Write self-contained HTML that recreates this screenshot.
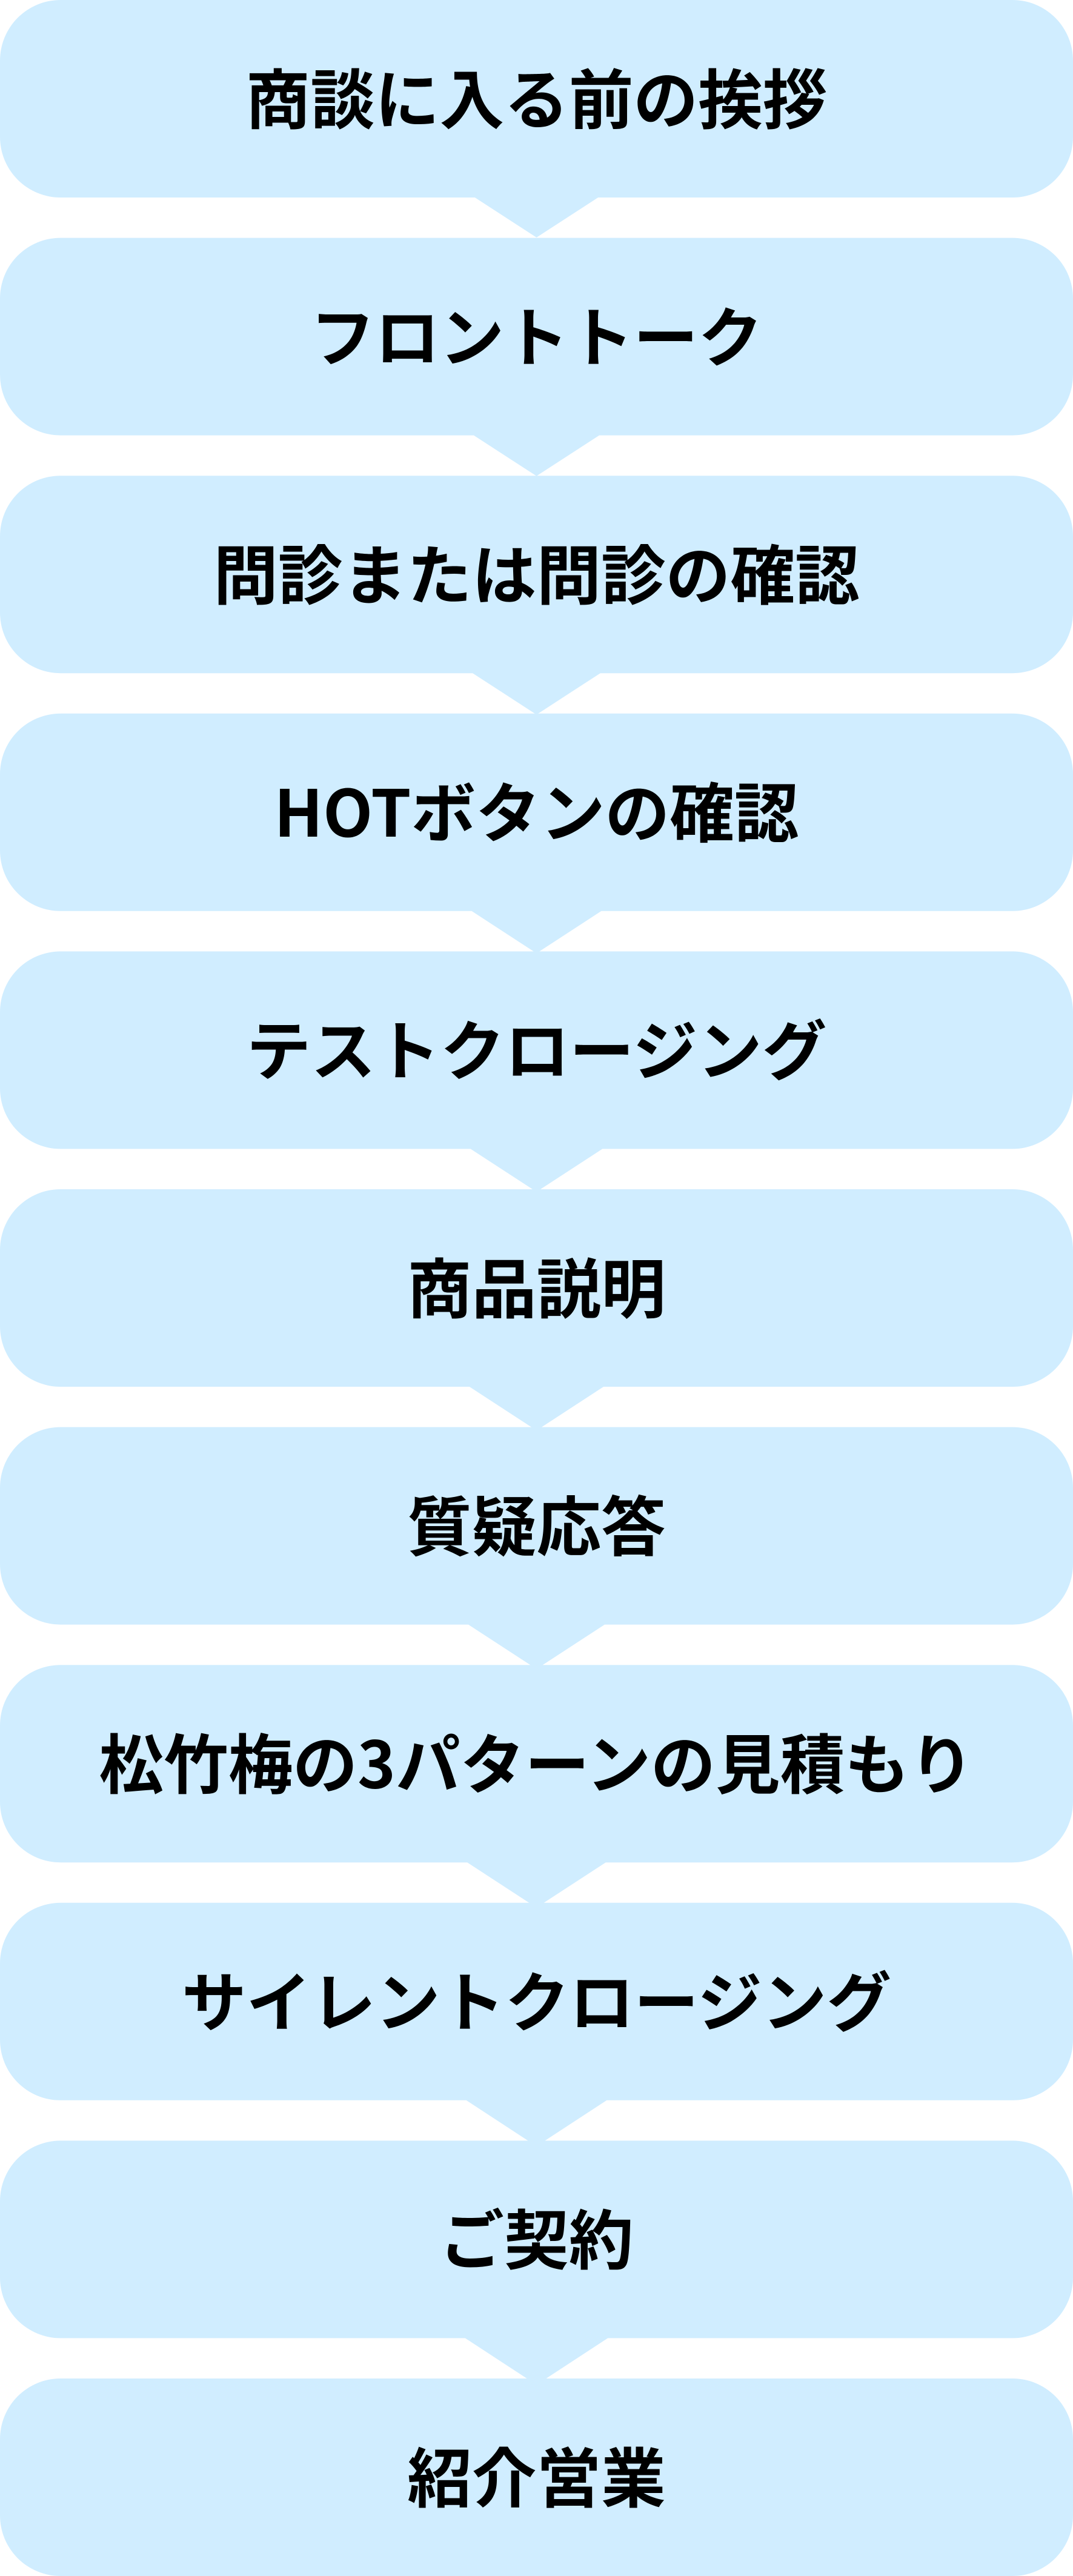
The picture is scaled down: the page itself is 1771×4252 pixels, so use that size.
<!DOCTYPE html>
<html lang="ja">
<head>
<meta charset="utf-8">
<title>営業の流れ</title>
<style>
html,body{margin:0;padding:0;background:#fff;width:1771px;height:4252px;overflow:hidden}
svg{display:block}
text{font-family:"Liberation Sans","Noto Sans CJK JP",sans-serif;font-weight:700;font-size:106.67px;fill:#000;text-anchor:middle}
.j{font-family:"Noto Sans CJK JP",sans-serif}
</style>
</head>
<body>
<svg xmlns="http://www.w3.org/2000/svg" width="1771" height="4252" viewBox="0 0 1771 4252">
<g fill="#d0edff">
<polygon points="783.8,324 987.2,324 987.2,326 885.5,392 783.8,326"/>
<polygon points="782,716.6 989,716.6 989,718.6 885.5,785.8 782,718.6"/>
<polygon points="780.2,1109.2 990.8,1109.2 990.8,1111.2 885.5,1179.6 780.2,1111.2"/>
<polygon points="778.5,1501.8 992.5,1501.8 992.5,1503.8 885.5,1573.5 778.5,1503.8"/>
<polygon points="776.7,1894.4 994.3,1894.4 994.3,1896.4 885.5,1967.3 776.7,1896.4"/>
<polygon points="774.9,2287 996.1,2287 996.1,2289 885.5,2361.1 774.9,2289"/>
<polygon points="773.1,2679.6 997.9,2679.6 997.9,2681.6 885.5,2754.9 773.1,2681.6"/>
<polygon points="771.3,3072.2 999.7,3072.2 999.7,3074.2 885.5,3148.7 771.3,3074.2"/>
<polygon points="769.6,3464.8 1001.4,3464.8 1001.4,3466.8 885.5,3542.6 769.6,3466.8"/>
<polygon points="767.8,3857.4 1003.2,3857.4 1003.2,3859.4 885.5,3936.4 767.8,3859.4"/>
<rect x="0" y="0" width="1771" height="326" rx="100" ry="100"/>
<rect x="0" y="392.6" width="1771" height="326" rx="100" ry="100"/>
<rect x="0" y="785.2" width="1771" height="326" rx="100" ry="100"/>
<rect x="0" y="1177.8" width="1771" height="326" rx="100" ry="100"/>
<rect x="0" y="1570.4" width="1771" height="326" rx="100" ry="100"/>
<rect x="0" y="1963" width="1771" height="326" rx="100" ry="100"/>
<rect x="0" y="2355.6" width="1771" height="326" rx="100" ry="100"/>
<rect x="0" y="2748.2" width="1771" height="326" rx="100" ry="100"/>
<rect x="0" y="3140.8" width="1771" height="326" rx="100" ry="100"/>
<rect x="0" y="3533.4" width="1771" height="326" rx="100" ry="100"/>
<rect x="0" y="3926" width="1771" height="326" rx="100" ry="100"/>
</g>
<text x="885.5" y="203.3">商談に入る前の挨拶</text>
<text x="885.5" y="595.9">フロントトーク</text>
<text x="885.5" y="988.5">問診または問診の確認</text>
<text x="885.5" y="1381.1" class="j">HOTボタンの確認</text>
<text x="885.5" y="1773.7">テストクロージング</text>
<text x="885.5" y="2166.3">商品説明</text>
<text x="885.5" y="2558.9">質疑応答</text>
<text x="885.5" y="2951.5" class="j">松竹梅の3パターンの見積もり</text>
<text x="885.5" y="3344.1">サイレントクロージング</text>
<text x="885.5" y="3736.7">ご契約</text>
<text x="885.5" y="4129.3">紹介営業</text>
</svg>
</body>
</html>
